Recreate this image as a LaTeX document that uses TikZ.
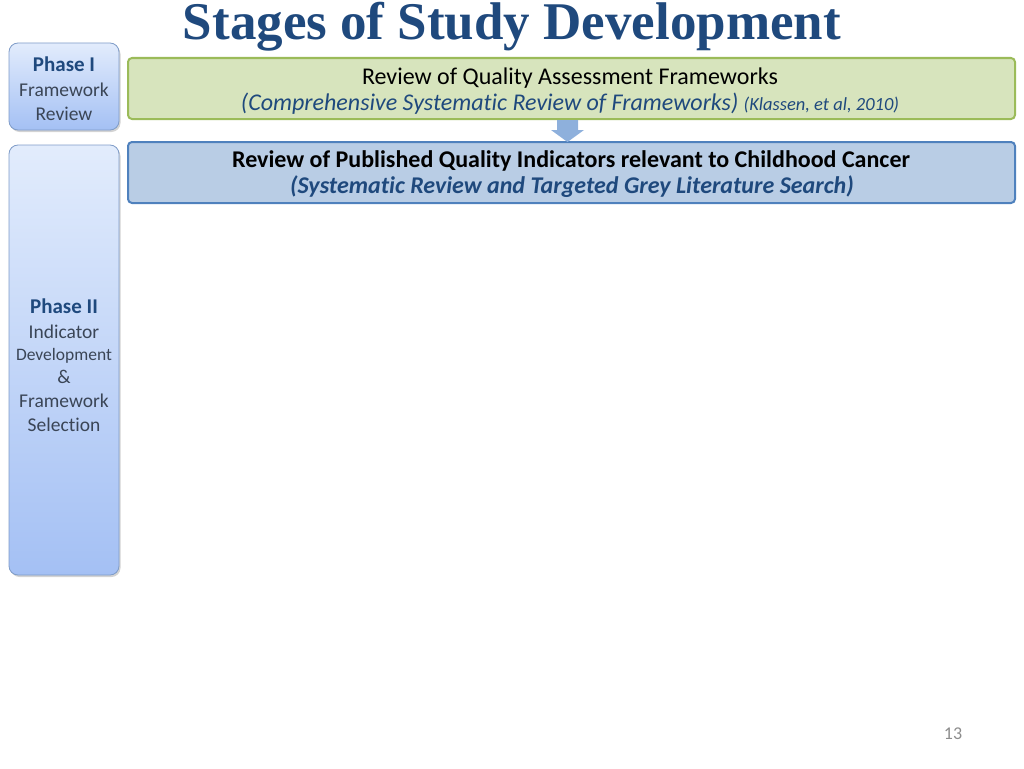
\documentclass[tikz,border=0pt]{standalone}
\usepackage{fontspec}
\setmainfont{Carlito}[Ligatures=NoCommon]
\newfontfamily\titlefont{Liberation Serif}
\usetikzlibrary{shadows}
\definecolor{titleblue}{HTML}{1F497D}
\definecolor{phasetop}{HTML}{E2ECFC}
\definecolor{phasebot}{HTML}{A4C0F4}
\definecolor{phaseedge}{HTML}{7F9CC8}
\definecolor{greenfill}{HTML}{D7E4BD}
\definecolor{greenedge}{HTML}{9BBB59}
\definecolor{bluefill}{HTML}{B9CDE5}
\definecolor{blueedge}{HTML}{4F81BD}
\definecolor{arrowblue}{HTML}{8EB0DC}
\definecolor{phasetext}{HTML}{3A4556}
\definecolor{pagegray}{HTML}{8C8C8C}
\tikzset{
  phasebox/.style={draw=phaseedge, line width=0.8pt, rounded corners=9pt,
    top color=phasetop, bottom color=phasebot,
    drop shadow={shadow xshift=1.5pt, shadow yshift=-2pt, opacity=0.35, fill=gray}},
  greenbox/.style={draw=greenedge, line width=2pt, fill=greenfill, rounded corners=4pt},
  bluebox/.style={draw=blueedge, line width=2pt, fill=bluefill, rounded corners=4pt},
  txt/.style={inner sep=0pt, anchor=base},
}
\begin{document}
\begin{tikzpicture}[x=1pt,y=-1pt]
\useasboundingbox (0,0) rectangle (1024,768);
% title
\node[txt, text=titleblue] (title) at (512,40) {\titlefont\bfseries\fontsize{53}{58}\selectfont Stages of Study Development};
% phase boxes
\path[phasebox] (9,43) rectangle (119,130);
\node[txt, text=titleblue] (p1a) at (64,71) {\fontsize{21}{24}\selectfont\bfseries Phase I};
\node[txt, text=phasetext] (p1b) at (64,96) {\fontsize{19.5}{22}\selectfont Framework};
\node[txt, text=phasetext] (p1c) at (64,120) {\fontsize{19.5}{22}\selectfont Review};
\path[phasebox] (9,145) rectangle (119,575);
\node[txt, text=titleblue] (p2a) at (64,313) {\fontsize{21}{24}\selectfont\bfseries Phase II};
\node[txt, text=phasetext] (p2b) at (64,338) {\fontsize{19.5}{22}\selectfont Indicator};
\node[txt, text=phasetext] (p2c) at (64,360) {\fontsize{17.5}{20}\selectfont Development};
\node[txt, text=phasetext] (p2d) at (64,383) {\fontsize{19.5}{22}\selectfont \&};
\node[txt, text=phasetext] (p2e) at (64,407) {\fontsize{19.5}{22}\selectfont Framework};
\node[txt, text=phasetext] (p2f) at (64,431) {\fontsize{19.5}{22}\selectfont Selection};
% main boxes
\node[greenbox, minimum width=887pt, minimum height=61pt, inner sep=0pt] (g) at (571.5,88.5) {};
\node[txt, text=black] (g1) at (570,84) {\fontsize{24}{28}\selectfont Review of Quality Assessment Frameworks};
\node[txt, text=titleblue] (g2) at (570,110) {\fontsize{24}{28}\selectfont\itshape (Comprehensive Systematic Review of Frameworks) {\fontsize{18.5}{22}\selectfont (Klassen, et al, 2010)}};
\node[bluebox, minimum width=887pt, minimum height=61pt, inner sep=0pt] (b) at (571.5,172.5) {};
\node[txt, text=black] (b1) at (571,167) {\fontsize{24}{28}\selectfont\bfseries Review of Published Quality Indicators relevant to Childhood Cancer};
\node[txt, text=titleblue] (b2) at (572,193) {\fontsize{24}{28}\selectfont\bfseries\itshape (Systematic Review and Targeted Grey Literature Search)};
% arrow
\fill[arrowblue] (557,120) -- (578,120) -- (578,130) -- (584,130) -- (567.5,142)
  -- (551,130) -- (557,130) -- cycle;
% page number
\node[txt, text=pagegray] (pg) at (953,739) {\fontsize{18}{20}\selectfont 13};
\end{tikzpicture}
\end{document}
